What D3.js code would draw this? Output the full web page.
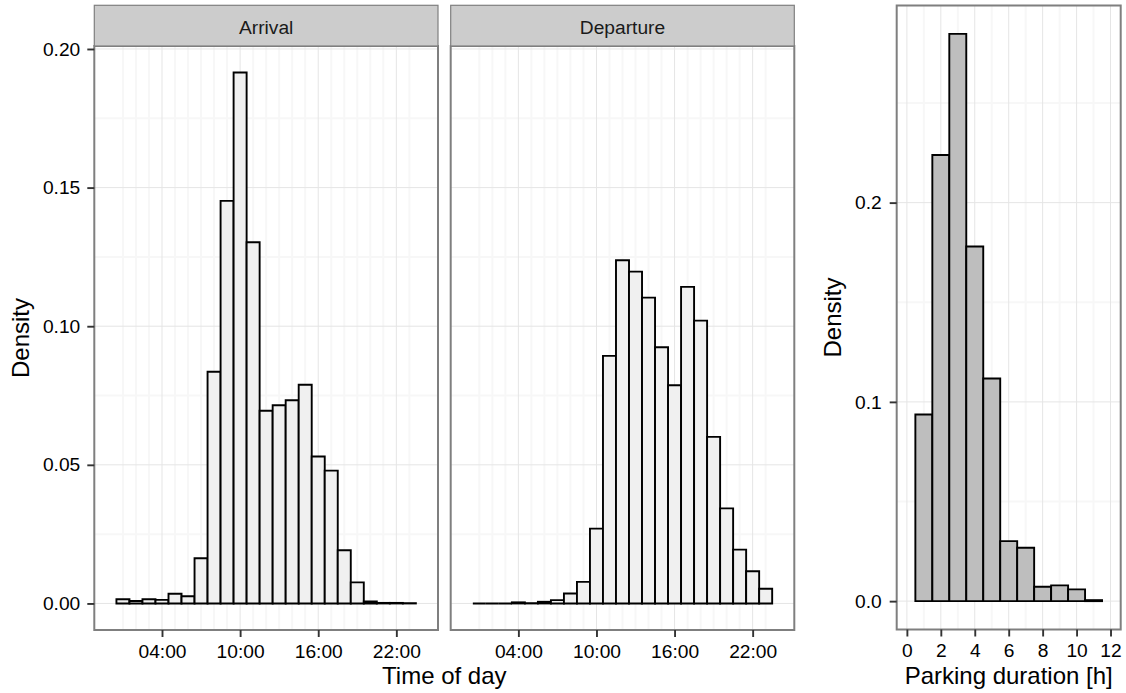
<!DOCTYPE html>
<html>
<head>
<meta charset="utf-8">
<script src="https://cdn.jsdelivr.net/npm/d3@7"></script>
<style>
  body { margin: 0; background: #ffffff; }
  svg { display: block; font-family: "Liberation Sans", Arial, Helvetica, sans-serif; }
</style>
</head>
<body>
<svg id="chart" width="1126" height="693"></svg>
<script>
// Hourly histogram bins (bin centres, hour of day)
const hourBins = [1, 2, 3, 4, 5, 6, 7, 8, 9, 10, 11, 12, 13, 14, 15, 16, 17, 18, 19, 20, 21, 22, 23];
const arrivalDensity = [0.0015, 0.0009, 0.0015, 0.0013, 0.0035, 0.0026, 0.0163, 0.0836, 0.1452, 0.1915, 0.1303, 0.0695,
                        0.0715, 0.0733, 0.0789, 0.0530, 0.0479, 0.0192, 0.0076, 0.0007, 0.0002, 0.0002, 0.0001];
const departureDensity = [0.0000, 0.0000, 0.0000, 0.0004, 0.0001, 0.0006, 0.0012, 0.0036, 0.0078, 0.0270, 0.0893, 0.1238,
                          0.1197, 0.1103, 0.0924, 0.0787, 0.1142, 0.1020, 0.0601, 0.0343, 0.0194, 0.0116, 0.0053];
const facetNames = ["Arrival", "Departure"];
const timeTickHours = [4, 10, 16, 22];
const timeTickLabels = ["04:00", "10:00", "16:00", "22:00"];
const timeDensityTicks = [0, 0.05, 0.10, 0.15, 0.20];
const timeDensityMinor = [0.025, 0.075, 0.125, 0.175];

// Parking duration histogram (bin centres, hours)
const durationBins = [1, 2, 3, 4, 5, 6, 7, 8, 9, 10, 11];
const durationDensity = [0.0937, 0.2239, 0.2847, 0.1780, 0.1117, 0.0301, 0.0268, 0.0072, 0.0079, 0.0059, 0.0005];
const durationTicks = [0, 2, 4, 6, 8, 10, 12];
const durationMinor = [1, 3, 5, 7, 9, 11];
const durationDensityTicks = [0, 0.1, 0.2];
const durationDensityMinor = [0.05, 0.15, 0.25];

const svg = d3.select("#chart");
const W = 1126, H = 693;
svg.append("rect").attr("width", W).attr("height", H).attr("fill", "#ffffff");

const TICK_FS = 19.2, TITLE_FS = 24;
const MAJOR = "#e5e5e5", MINOR = "#f7f7f7", BORDER = "#7f7f7f";

// Bar as a closed path so zero-height bins still show their outline
function barPath(x, y, x0, x1, v) {
  const p = d3.path();
  p.moveTo(x(x0), y(0));
  p.lineTo(x(x0), y(v));
  p.lineTo(x(x1), y(v));
  p.lineTo(x(x1), y(0));
  p.closePath();
  return p.toString();
}

function gridLines(g, x, y, xs, ys, color, width) {
  g.selectAll(null).data(xs).enter().append("line")
    .attr("x1", d => x(d)).attr("x2", d => x(d))
    .attr("y1", y.range()[0]).attr("y2", y.range()[1])
    .attr("stroke", color).attr("stroke-width", width);
  g.selectAll(null).data(ys).enter().append("line")
    .attr("y1", d => y(d)).attr("y2", d => y(d))
    .attr("x1", x.range()[0]).attr("x2", x.range()[1])
    .attr("stroke", color).attr("stroke-width", width);
}

function styleAxis(g) {
  g.select(".domain").remove();
  g.selectAll(".tick line").attr("stroke", "#333333").attr("stroke-width", 1.9);
  g.selectAll(".tick text").attr("fill", "#000000").attr("font-size", TICK_FS)
    .attr("font-family", "\"Liberation Sans\", Arial, Helvetica, sans-serif");
}

// ---------- Time-of-day facets ----------
const timePanels = [
  { name: facetNames[0], values: arrivalDensity, x0: 94.3, x1: 438 },
  { name: facetNames[1], values: departureDensity, x0: 450.7, x1: 794.3 }
];
const stripTop = 5.3, panelTop = 46, panelBottom = 630;
const timeMax = d3.max(arrivalDensity.concat(departureDensity));
const yTime = d3.scaleLinear()
  .domain([-0.05 * timeMax, 1.05 * timeMax])
  .range([panelBottom, panelTop]);
const hourMinor = hourBins.filter(h => !timeTickHours.includes(h));

timePanels.forEach((p, i) => {
  const x = d3.scaleLinear().domain([-1.2, 25.2]).range([p.x0, p.x1]);
  const g = svg.append("g");

  g.append("rect").attr("x", p.x0).attr("y", panelTop)
    .attr("width", p.x1 - p.x0).attr("height", panelBottom - panelTop).attr("fill", "#ffffff");

  gridLines(g, x, yTime, hourMinor, timeDensityMinor, MINOR, 2);
  gridLines(g, x, yTime, timeTickHours, timeDensityTicks, MAJOR, 1);

  g.selectAll(".bar").data(hourBins).enter().append("path")
    .attr("class", "bar")
    .attr("d", (h, j) => barPath(x, yTime, h - 0.5, h + 0.5, p.values[j]))
    .attr("fill", "#f0f0f0").attr("stroke", "#000000").attr("stroke-width", 1.9)
    .attr("stroke-linejoin", "miter");

  g.append("rect").attr("x", p.x0).attr("y", panelTop)
    .attr("width", p.x1 - p.x0).attr("height", panelBottom - panelTop)
    .attr("fill", "none").attr("stroke", BORDER).attr("stroke-width", 2);

  // facet strip
  g.append("rect").attr("x", p.x0).attr("y", stripTop)
    .attr("width", p.x1 - p.x0).attr("height", panelTop - stripTop)
    .attr("fill", "#cccccc").attr("stroke", BORDER).attr("stroke-width", 1.2);
  g.append("text").attr("x", (p.x0 + p.x1) / 2).attr("y", 34)
    .attr("text-anchor", "middle").attr("font-size", TICK_FS).attr("fill", "#1a1a1a")
    .text(p.name);

  const xa = svg.append("g").attr("transform", `translate(0,${panelBottom})`)
    .call(d3.axisBottom(x).tickValues(timeTickHours)
      .tickFormat((d, k) => timeTickLabels[k]).tickSizeOuter(0).tickSize(7).tickPadding(7));
  styleAxis(xa);

  if (i === 0) {
    const ya = svg.append("g").attr("transform", `translate(${p.x0},0)`)
      .call(d3.axisLeft(yTime).tickValues(timeDensityTicks)
        .tickFormat(d3.format(".2f")).tickSizeOuter(0).tickSize(7).tickPadding(7));
    styleAxis(ya);
  }
});

svg.append("text")
  .attr("x", (timePanels[0].x0 + timePanels[1].x1) / 2).attr("y", 684)
  .attr("text-anchor", "middle").attr("font-size", TITLE_FS).attr("fill", "#000000")
  .text("Time of day");
svg.append("text")
  .attr("transform", `translate(29,${(panelTop + panelBottom) / 2}) rotate(-90)`)
  .attr("text-anchor", "middle").attr("font-size", TITLE_FS).attr("fill", "#000000")
  .text("Density");

// ---------- Parking duration ----------
const dp = { x0: 896.7, x1: 1120.7, y0: 5.5, y1: 629.5 };
const durMax = d3.max(durationDensity);
const xDur = d3.scaleLinear().domain([-0.6, 12.6]).range([dp.x0, dp.x1]);
const yDur = d3.scaleLinear().domain([-0.05 * durMax, 1.05 * durMax]).range([dp.y1, dp.y0]);

const gd = svg.append("g");
gd.append("rect").attr("x", dp.x0).attr("y", dp.y0)
  .attr("width", dp.x1 - dp.x0).attr("height", dp.y1 - dp.y0).attr("fill", "#ffffff");
gridLines(gd, xDur, yDur, durationMinor, durationDensityMinor, MINOR, 2);
gridLines(gd, xDur, yDur, durationTicks, durationDensityTicks, MAJOR, 1);

gd.selectAll(".bar").data(durationBins).enter().append("path")
  .attr("class", "bar")
  .attr("d", (b, j) => barPath(xDur, yDur, b - 0.5, b + 0.5, durationDensity[j]))
  .attr("fill", "#bebebe").attr("stroke", "#000000").attr("stroke-width", 1.9)
  .attr("stroke-linejoin", "miter");

gd.append("rect").attr("x", dp.x0).attr("y", dp.y0)
  .attr("width", dp.x1 - dp.x0).attr("height", dp.y1 - dp.y0)
  .attr("fill", "none").attr("stroke", BORDER).attr("stroke-width", 2);

const xd = svg.append("g").attr("transform", `translate(0,${dp.y1})`)
  .call(d3.axisBottom(xDur).tickValues(durationTicks).tickFormat(d3.format("d"))
    .tickSizeOuter(0).tickSize(7).tickPadding(7));
styleAxis(xd);
const yd = svg.append("g").attr("transform", `translate(${dp.x0},0)`)
  .call(d3.axisLeft(yDur).tickValues(durationDensityTicks).tickFormat(d3.format(".1f"))
    .tickSizeOuter(0).tickSize(7).tickPadding(8));
styleAxis(yd);

svg.append("text")
  .attr("x", (dp.x0 + dp.x1) / 2).attr("y", 684)
  .attr("text-anchor", "middle").attr("font-size", TITLE_FS).attr("fill", "#000000")
  .text("Parking duration [h]");
svg.append("text")
  .attr("transform", `translate(841,${(dp.y0 + dp.y1) / 2}) rotate(-90)`)
  .attr("text-anchor", "middle").attr("font-size", TITLE_FS).attr("fill", "#000000")
  .text("Density");
</script>
</body>
</html>
